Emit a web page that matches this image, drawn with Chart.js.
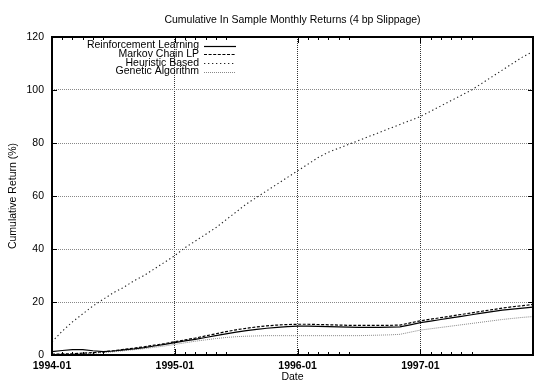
<!DOCTYPE html>
<html>
<head>
<meta charset="utf-8">
<script src="https://cdn.jsdelivr.net/npm/chart.js@4/dist/chart.umd.min.js"></script>
<style>
  html, body { margin: 0; padding: 0; background: #fff; }
  #wrap { width: 535px; height: 384px; }
</style>
</head>
<body>
<div id="wrap"><canvas id="c" width="535" height="384"></canvas></div>
<script>
// Monthly observation dates
const dates = [
  '1994-01','1994-02','1994-03','1994-04','1994-05','1994-06','1994-07','1994-08','1994-09','1994-10','1994-11','1994-12',
  '1995-01','1995-02','1995-03','1995-04','1995-05','1995-06','1995-07','1995-08','1995-09','1995-10','1995-11','1995-12',
  '1996-01','1996-02','1996-03','1996-04','1996-05','1996-06','1996-07','1996-08','1996-09','1996-10','1996-11','1996-12',
  '1997-01','1997-02','1997-03','1997-04','1997-05','1997-06','1997-07','1997-08','1997-09','1997-10','1997-11','1997-12'
];

// Labelled dates on the x axis
const yearTicks = ['1994-01', '1995-01', '1996-01', '1997-01'];
// Minor tick months after each labelled date
const minorMonths = ['02', '03', '04', '05', '06'];
// Y axis ticks (%)
const yTicks = [0, 20, 40, 60, 80, 100, 120];

// Cumulative returns (%) per strategy
const reinforcement = [
  1.3, 1.7, 2.0, 2.0, 1.6, 1.3, 1.5, 1.9, 2.3, 2.8, 3.4, 4.0,
  4.7, 5.3, 5.9, 6.6, 7.3, 8.0, 8.6, 9.2, 9.7, 10.1, 10.4, 10.7,
  10.9, 10.9, 10.8, 10.7, 10.6, 10.5, 10.4, 10.4, 10.4, 10.5, 10.6, 11.4,
  12.2, 12.8, 13.4, 14.0, 14.6, 15.2, 15.8, 16.4, 16.9, 17.3, 17.7, 18.1
];
const markovLP = [
  0.3, 0.4, 0.5, 0.7, 0.9, 1.2, 1.6, 2.1, 2.6, 3.1, 3.7, 4.3,
  5.0, 5.7, 6.4, 7.2, 8.0, 8.8, 9.5, 10.1, 10.6, 11.0, 11.3, 11.5,
  11.6, 11.6, 11.5, 11.4, 11.3, 11.2, 11.2, 11.2, 11.2, 11.2, 11.3, 12.1,
  12.9, 13.5, 14.1, 14.7, 15.3, 15.9, 16.5, 17.1, 17.7, 18.2, 18.6, 19.1
];
const heuristic = [
  5.0, 9.0, 12.5, 15.5, 18.5, 21.0, 23.5, 25.5, 28.0, 30.0, 32.5, 35.0,
  37.5, 40.5, 43.0, 45.5, 48.0, 51.0, 54.0, 57.0, 59.5, 62.0, 64.5, 67.0,
  69.5, 72.0, 74.5, 76.5, 78.0, 79.5, 81.0, 82.5, 84.0, 85.5, 87.0, 88.5,
  90.0, 92.0, 94.0, 96.0, 98.0, 100.0, 102.5, 105.0, 107.5, 110.0, 112.5, 114.5
];
const genetic = [
  0.2, 0.3, 0.4, 0.5, 0.7, 0.9, 1.2, 1.6, 2.0, 2.4, 2.9, 3.4,
  4.0, 4.6, 5.2, 5.7, 6.2, 6.6, 6.9, 7.1, 7.2, 7.3, 7.3, 7.3,
  7.3, 7.3, 7.3, 7.3, 7.3, 7.3, 7.3, 7.4, 7.5, 7.6, 7.8, 8.6,
  9.4, 9.9, 10.4, 10.9, 11.4, 11.9, 12.4, 12.9, 13.4, 13.8, 14.2, 14.5
];

const FONT = "'Liberation Sans', Arial, Helvetica, sans-serif";

// Frame, tick marks and the key, drawn on top of the plot
const framePlugin = {
  id: 'frame',
  afterDatasetsDraw(chart) {
    const { ctx, chartArea: a, scales: { x, y } } = chart;
    ctx.save();
    ctx.strokeStyle = '#000';
    ctx.setLineDash([]);

    // major y ticks, left and right
    ctx.lineWidth = 1;
    ctx.beginPath();
    yTicks.forEach(v => {
      const py = Math.round(y.getPixelForValue(v)) + 0.5;
      ctx.moveTo(a.left, py); ctx.lineTo(a.left + 5, py);
      ctx.moveTo(a.right, py); ctx.lineTo(a.right - 5, py);
    });
    // major x ticks, bottom and top
    yearTicks.forEach(d => {
      const px = Math.round(x.getPixelForValue(dates.indexOf(d))) + 0.5;
      ctx.moveTo(px, a.bottom); ctx.lineTo(px, a.bottom - 6);
      ctx.moveTo(px, a.top); ctx.lineTo(px, a.top + 6);
    });
    // minor x ticks
    dates.forEach((d, i) => {
      if (minorMonths.includes(d.slice(5))) {
        const px = Math.round(x.getPixelForValue(i)) + 0.5;
        ctx.moveTo(px, a.bottom); ctx.lineTo(px, a.bottom - 3);
        ctx.moveTo(px, a.top); ctx.lineTo(px, a.top + 3);
      }
    });
    ctx.stroke();

    // plot frame
    ctx.lineWidth = 2;
    ctx.strokeRect(a.left, a.top, a.right - a.left, a.bottom - a.top);

    // key: right-aligned labels with line samples
    ctx.font = '10.5px ' + FONT;
    ctx.textAlign = 'right';
    ctx.textBaseline = 'middle';
    ctx.fillStyle = '#000';
    chart.data.datasets.forEach((ds, i) => {
      const ky = 45.5 + i * 8.7;
      ctx.fillText(ds.label, 199, ky);
      ctx.strokeStyle = ds.borderColor;
      ctx.lineWidth = ds.borderWidth;
      ctx.setLineDash(ds.borderDash || []);
      ctx.beginPath();
      ctx.moveTo(204, Math.round(ky) + 0.5);
      ctx.lineTo(236, Math.round(ky) + 0.5);
      ctx.stroke();
    });
    ctx.restore();
  }
};

new Chart(document.getElementById('c'), {
  type: 'line',
  data: {
    labels: dates,
    datasets: [
      { label: 'Reinforcement Learning', data: reinforcement, borderColor: '#000', borderWidth: 1.2, borderDash: [] },
      { label: 'Markov Chain LP', data: markovLP, borderColor: '#000', borderWidth: 1.2, borderDash: [3, 1.6] },
      { label: 'Heuristic Based', data: heuristic, borderColor: '#222', borderWidth: 1.1, borderDash: [1.3, 2.7] },
      { label: 'Genetic Algorithm', data: genetic, borderColor: '#888', borderWidth: 1, borderDash: [1, 1] }
    ]
  },
  options: {
    responsive: false,
    animation: false,
    devicePixelRatio: 1,
    layout: { padding: { top: 0, right: 2, left: 0, bottom: 0 } },
    elements: { point: { radius: 0 }, line: { tension: 0, fill: false } },
    plugins: {
      legend: { display: false },
      tooltip: { enabled: false },
      title: {
        display: true,
        text: 'Cumulative In Sample Monthly Returns (4 bp Slippage)',
        fullSize: false,
        color: '#000',
        font: { family: FONT, size: 10.5, weight: 'normal', lineHeight: 1.2 },
        padding: { top: 14, bottom: 10.4 }
      }
    },
    scales: {
      x: {
        type: 'category',
        offset: false,
        afterFit: s => { s.height = 29; s.paddingLeft = 0; s.paddingRight = 0; },
        grid: {
          drawTicks: false,
          lineWidth: 1,
          color: c => (c.index > 0 && yearTicks.includes(dates[c.index])) ? '#333' : 'rgba(0,0,0,0)'
        },
        border: { display: false, dash: [1, 1] },
        ticks: {
          autoSkip: false,
          maxRotation: 0,
          padding: 5,
          color: '#000',
          font: { family: FONT, size: 10.5, weight: 'bold' },
          callback: (v, i) => yearTicks.includes(dates[i]) ? dates[i] : ''
        },
        title: {
          display: true,
          text: 'Date',
          color: '#000',
          font: { family: FONT, size: 10.5 },
          padding: { top: 0, bottom: 1 }
        }
      },
      y: {
        min: 0,
        max: 120,
        afterFit: s => { s.width = 52; },
        afterBuildTicks: s => { s.ticks = yTicks.map(v => ({ value: v })); },
        grid: {
          drawTicks: false,
          lineWidth: 1,
          color: c => (c.tick && c.tick.value > 0 && c.tick.value < 120) ? '#888' : 'rgba(0,0,0,0)'
        },
        border: { display: false, dash: [1, 1] },
        ticks: {
          padding: 8,
          color: '#000',
          font: { family: FONT, size: 10.5 }
        },
        title: {
          display: true,
          text: 'Cumulative Return (%)',
          color: '#000',
          font: { family: FONT, size: 10.5 },
          padding: { top: 7, bottom: 0 }
        }
      }
    }
  },
  plugins: [framePlugin]
});
</script>
</body>
</html>
